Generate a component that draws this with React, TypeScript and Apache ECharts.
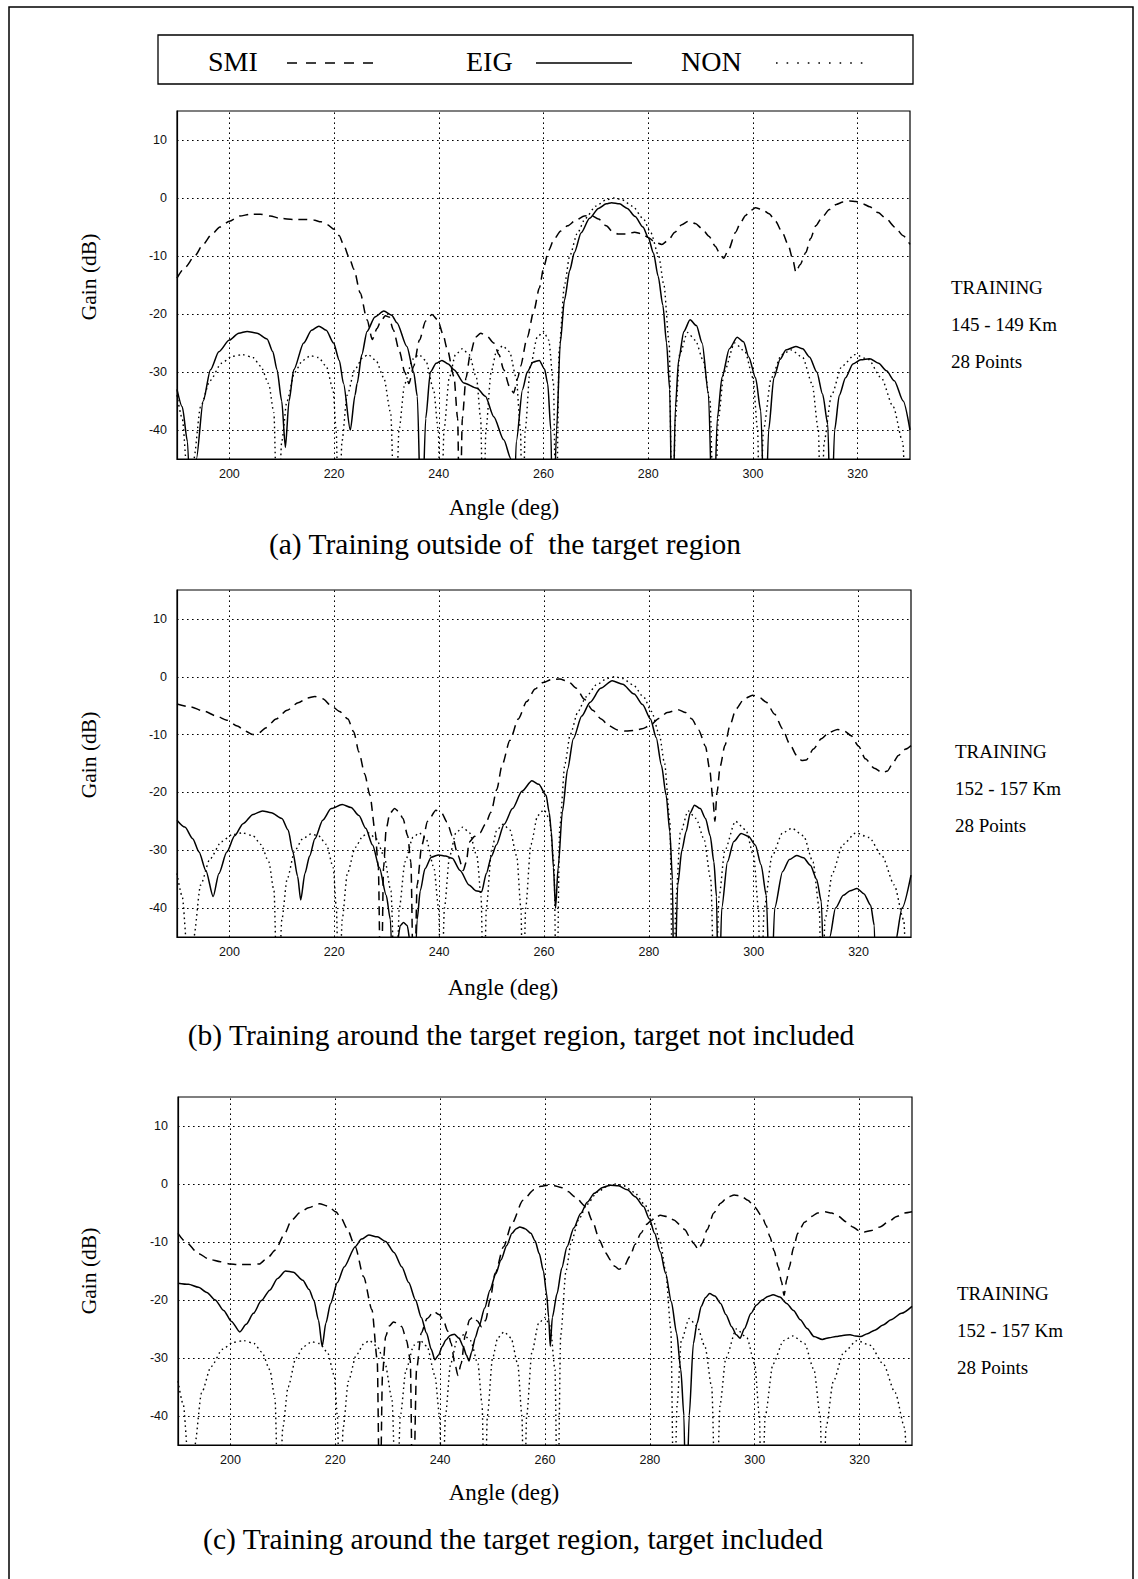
import React, { useEffect, useRef } from "react";
import * as echarts from "echarts";

const xTicks = [200, 220, 240, 260, 280, 300, 320];
const yTicks = [10, 0, -10, -20, -30, -40];

const legendNames = ["SMI", "EIG", "NON"];
const panelCaptions = [
  "(a) Training outside of  the target region",
  "(b) Training around the target region, target not included",
  "(c) Training around the target region, target included",
];
const trainingRanges = ["145 - 149 Km", "152 - 157 Km", "152 - 157 Km"];
const trainingPoints = ["28 Points", "28 Points", "28 Points"];

// Quiescent (non-adaptive) pattern, the same in every panel
const NON: number[][] = [
  [190,-34],[191,-38],[192,-48],[192.6,-60],[193.2,-45],[194.5,-36],[196.3,-31.5],[198.5,-28.5],[200.5,-27.3],[202.5,-27],[204.5,-27.5],[206,-29],[207.5,-32],[208.5,-37],[209.2,-60],
  [210,-42],[211,-35],[212.5,-30],[214,-28],[215.5,-27.2],[217,-27.5],[218.5,-29],[219.8,-33],[220.4,-40],[220.9,-60],
  [221.5,-42],[222.5,-34],[224,-29.5],[225.5,-27.5],[226.5,-27],[228,-28],[229.5,-31],[230.8,-37],[231.7,-60],
  [232.4,-40],[233.5,-32],[235,-27.8],[236.2,-27],[237.5,-28],[239,-33],[239.9,-40],[240.4,-60],
  [241,-40],[242,-31],[243.2,-27],[244.5,-26],[245.8,-27],[247.2,-31],[248,-38],[248.5,-60],
  [249,-40],[250,-30],[251,-26.5],[252.2,-25.5],[253.5,-26.5],[254.8,-31],[255.6,-40],[256,-60],
  [256.5,-40],[257.5,-29],[258.8,-24],[260,-23],[261,-24.5],[261.9,-32],[262.4,-60],
  [263,-26],[264,-15],[265,-10],[266.5,-6],[268,-3.5],[270,-1.4],[272,-0.3],[273.5,0],[275,-0.3],[277,-1.4],[279,-3.5],[280.5,-6],[282,-10],[283,-15],[284,-25],[284.6,-60],
  [285.2,-38],[286,-27],[287.5,-23.2],[289,-24.5],[290.5,-28],[291.8,-35],[292.6,-60],
  [293.4,-38],[294.5,-30],[296.5,-25],[298.5,-26.5],[300,-31],[300.9,-40],[301.3,-60],
  [302,-40],[303.5,-31],[305.5,-27],[307.3,-26.2],[309.5,-27.5],[311.3,-32],[312.5,-40],[313,-60],
  [313.6,-42],[315,-34],[317,-29],[319.5,-27],[322,-27.8],[324.5,-31],[326.8,-36],[328.6,-42],[329.5,-60],[330,-50],
];

const SMI_A: number[][] = [
  [190,-13.8],[191.5,-12],[193.4,-10],[195,-8],[196.6,-6.3],[198.2,-5],[200,-4],[202,-3.1],[204,-2.8],[205.9,-2.8],[207.8,-3.1],[209.7,-3.5],[212.3,-3.7],[214.5,-3.7],[216.1,-3.8],[217.5,-4.1],[218.7,-4.6],[220,-5.4],[221,-6.5],[221.9,-8.3],[222.9,-10.3],[223.8,-12.3],[225,-16.4],[226.3,-21],[227.3,-24.4],
  [228.2,-22.5],[228.9,-21.3],[229.8,-20.3],[230.5,-20.5],[231.3,-22.7],[232.5,-26.5],[233.5,-30],[234.3,-32],[235.2,-29],[236.3,-24.5],[237.5,-21.2],[238.7,-20.1],[239.8,-21],[240.8,-23.5],[241.6,-26],[242.9,-30.8],[243.6,-38],[244,-60],
  [244.5,-38],[245.2,-31],[246,-27],[247,-24],[248,-23.3],[249.2,-23.8],[250.5,-25],[251.5,-27],[252.4,-29.6],[253.5,-32.5],[254.3,-33.6],[255.1,-31],[255.6,-29],[256.9,-24],[258.2,-19.3],[259.2,-15.5],[260.1,-11.7],[261,-9],[262,-7.1],[263.3,-5.7],[264.6,-4.8],[266.2,-3.8],[267.8,-3.1],[269.1,-3],[270.5,-3.6],[272,-4.8],[273.2,-5.8],[274.2,-6.2],[275.8,-6.2],[277.4,-5.9],[278.8,-6.2],[280,-6.8],[281.3,-7.6],[282.6,-8],[283.8,-7.3],[285.1,-5.9],[286.4,-4.6],[287.7,-4],[289,-4.4],[290.3,-5.3],[291.6,-6.6],[292.8,-8.3],[293.8,-9.8],[294.4,-10.4],[295.3,-9],[296.7,-5.9],[297.6,-4.3],[298.6,-3],[299.6,-2.1],[300.5,-1.7],[301.8,-2],[303.1,-2.7],[304.3,-4],[305.6,-5.9],[306.7,-8],[307.6,-10.5],[308.2,-12.8],[309,-11.5],[310.1,-9.4],[311,-7],[312,-4.8],[313.3,-3.2],[314.6,-2],[315.9,-1.1],[317.2,-0.7],[318.5,-0.5],[319.7,-0.6],[321,-1],[322.3,-1.5],[323.9,-2.5],[325.5,-3.6],[327.1,-5],[328.7,-6.5],[330,-8],
];

const EIG_A: number[][] = [
  [190,-33],[191,-36],[192,-42],[192.8,-60],[193.7,-45],[195,-35],[196.4,-29.6],[198,-26.5],[200,-24.5],[201.8,-23.3],[203.4,-23],[205.3,-23.3],[207.2,-24.3],[208.3,-26.5],[209.1,-29.6],[210,-35],[210.7,-43],
  [211.4,-35],[212.3,-29.6],[214.2,-25],[215.7,-22.8],[217.1,-22.1],[218.5,-22.8],[219.9,-25],[221,-28],[221.8,-32],[223.1,-40],
  [224,-34],[224.4,-32],[225.3,-27],[226.3,-23],[227.8,-20.5],[229.5,-19.5],[231,-20.2],[232,-21.5],[233.9,-25.6],[235.2,-30],[235.9,-34.2],[236.7,-60],
  [237.5,-38],[238.4,-30],[239.5,-28.5],[240.6,-28],[241.8,-28.6],[242.9,-29.6],[244.8,-31.9],[247.3,-32.8],[248.9,-34.2],[250.5,-37.7],[252.4,-41.7],[253.8,-45],[254.2,-60],
  [254.8,-42],[256,-33],[256.9,-30],[258,-28.3],[259.2,-28],[260.2,-29.5],[260.8,-32],[261.4,-40],[261.8,-60],
  [262.5,-40],[263.2,-25],[264,-17.6],[265,-12.5],[265.9,-9.4],[267.2,-6],[268.8,-3.5],[270.5,-1.8],[272,-1],[273,-0.8],[274.5,-1],[276,-1.8],[277.5,-3.2],[279,-5],[280,-6.8],[281,-9.5],[281.9,-13.5],[282.8,-18.5],[283.5,-25],[284.1,-33],[284.6,-60],
  [285.2,-36],[285.8,-28],[286.8,-23],[288,-21],[289.2,-22],[290.3,-25],[291.5,-33.8],[292.4,-60],
  [293.2,-38],[294.1,-30.9],[295.5,-26],[297,-24],[298.2,-24.8],[299.2,-27.4],[300.5,-31],[301.5,-36.7],[302.3,-60],
  [303,-40],[304,-31],[305.2,-27.8],[306.3,-26.2],[308.2,-25.6],[309.5,-26],[310.8,-27.4],[312.2,-30],[313.3,-33.8],[314.3,-39],[314.9,-60],
  [315.6,-40],[316.5,-34],[317.7,-31],[319.1,-28.6],[320.6,-27.9],[322.3,-27.7],[324,-28.5],[325.5,-29.8],[327,-31.5],[328.7,-35],[330,-40],
];

const SMI_B: number[][] = [
  [190,-4.7],[192.5,-5.2],[195.3,-6],[197.5,-6.8],[199.5,-7.5],[201.5,-8.5],[203,-9.4],[204.5,-10],[205.5,-9.8],[207,-8.8],[208.9,-7.3],[211,-5.8],[213.1,-4.5],[214.8,-3.7],[216.3,-3.4],[217.8,-3.8],[219.4,-5],[221,-6],[222.6,-7.3],[223.7,-9.5],[224.7,-13],[225.8,-16.8],[226.8,-20.5],[227.8,-26.8],[228.4,-33],[228.9,-60],
  [229.4,-33],[229.9,-26.3],[230.6,-23.6],[231.5,-22.8],[232.3,-23.3],[233.1,-24.5],[234,-27.5],[234.6,-32],[235.2,-60],
  [235.8,-36],[236.7,-29.1],[237.8,-25],[239.4,-23.1],[240.5,-23.6],[241.5,-25.1],[242.5,-27.5],[243.6,-30.9],[244.6,-33.5],[245.2,-32],[245.7,-28.6],[246.8,-27.6],[247.8,-27],[248.8,-25.5],[249.9,-23.4],[251,-19.5],[252,-15.3],[253.5,-11],[255.1,-7.3],[256.7,-4.3],[258.3,-2.1],[259.8,-1],[261.4,-0.5],[263,-0.4],[264.6,-0.8],[266.2,-2],[267.7,-3.9],[269.3,-5.8],[270.9,-7.3],[272.4,-8.5],[274,-9.2],[275.6,-9.4],[277.2,-9.3],[278.7,-9],[280.3,-8.4],[281.9,-7.2],[283.5,-6.2],[285.6,-5.7],[287,-6.2],[288.2,-7.3],[289.5,-9.2],[290.8,-12],[291.6,-16],[292.2,-21],[292.6,-25],[293,-20],[293.6,-15.5],[294.5,-11.9],[295.5,-8.3],[296.6,-5.6],[298.2,-3.8],[299.8,-3.2],[301,-3.5],[302.4,-4.4],[304,-6.5],[305.5,-9],[306.8,-11.5],[308.2,-13.6],[309.2,-14.5],[310,-14.4],[311.4,-12.5],[312.9,-10.7],[314.4,-9.6],[316,-9.1],[317.3,-9.4],[318.6,-10.2],[320,-12],[321.3,-14.2],[323,-15.8],[324.5,-16.6],[325.5,-16.3],[326.5,-15],[327.6,-13.6],[329,-12.5],[330,-11.9],
];

const EIG_B: number[][] = [
  [190,-24.8],[191.5,-26],[193,-28],[194.2,-30.3],[195.5,-33.5],[196.9,-38],[198,-34],[199.5,-30.3],[201,-27.5],[202.6,-25.4],[204.5,-23.8],[206.3,-23.2],[208,-23.5],[210,-24.5],[211.2,-26.5],[212.1,-30.3],[213,-34.5],[213.6,-38.6],
  [214.4,-34],[215.3,-31],[216.3,-28],[217.8,-24.8],[219.4,-22.8],[221.5,-22.1],[223.2,-22.6],[224.7,-24],[226,-26.2],[227.3,-29.1],[228.6,-33],[229.9,-37.8],[230.7,-42],[231.4,-60],
  [232,-46],[232.6,-43],[233.2,-42.5],[233.9,-43],[234.5,-46],[235.1,-60],
  [235.8,-42],[236.4,-37],[237.3,-33.2],[238.5,-31.2],[239.9,-30.8],[241.2,-31],[242.5,-31.4],[244,-33.5],[245.7,-36],[247,-37],[248.1,-37.2],[249,-34],[250,-31],[250.9,-29.1],[252.4,-25.5],[254,-22.8],[255.8,-19.8],[257.7,-18],[259,-18.6],[260.4,-20.5],[261,-23.5],[261.4,-26.8],[261.8,-33],[262.2,-40],
  [262.7,-33],[263.5,-23.4],[264.5,-16],[265.6,-10.7],[267.2,-6.8],[268.8,-4.4],[270.8,-2],[273,-0.7],[275,-1.3],[277.2,-3],[278.8,-4.8],[280.3,-7.3],[281.4,-10.5],[282.4,-15.3],[283.3,-20.5],[284,-26.8],[284.5,-35],[284.8,-60],
  [285.5,-36],[286.3,-30],[287.1,-26.8],[287.9,-23.5],[288.7,-22.2],[289.8,-22.8],[290.8,-24.5],[291.7,-27.5],[292.4,-32],[292.9,-38],[293.3,-60],
  [293.9,-40],[295,-32],[296.2,-28.5],[297.6,-27.1],[299,-27.6],[300.3,-29.1],[301.4,-32.5],[302.4,-37.8],[303.2,-60],
  [304,-40],[305.5,-33.7],[306.8,-31.6],[308.2,-30.9],[309.5,-31.3],[310.8,-32.6],[312,-35],[312.9,-38.9],[313.6,-60],
  [314.5,-45],[315.6,-40],[317.1,-37.8],[318.4,-37],[319.7,-36.6],[321,-37.5],[322.3,-39.5],[323,-43],[323.4,-60],
  [326.3,-60],[327,-46],[328.3,-40],[330,-34.3],
];

const SMI_C: number[][] = [
  [190,-8.5],[191.5,-10],[193.9,-12],[196,-13],[198.1,-13.4],[200,-13.8],[201.3,-13.9],[203.5,-13.9],[205.5,-13.8],[207,-12.8],[208.6,-11.4],[210.2,-8.8],[211.7,-6.2],[213.3,-4.9],[214.9,-4.1],[217,-3.4],[218.6,-3.8],[220.1,-4.8],[221.2,-6],[222.2,-7.6],[223.8,-10.8],[225.4,-16],[227,-21.7],[228,-30.3],[228.5,-60],
  [229,-33],[229.6,-26.3],[230.3,-24.5],[231.1,-23.8],[231.9,-24],[232.7,-24.6],[233.6,-27],[234.3,-30.3],[234.8,-60],
  [235.5,-32],[236.4,-25.7],[237.5,-23.2],[238.8,-22],[239.8,-22.5],[240.6,-23.4],[241.4,-25.3],[242.1,-27.5],[242.8,-31],[243.4,-33],[244,-31],[244.8,-26],[245.6,-23.4],[246.3,-22.9],[247.1,-23.6],[247.9,-24.6],[248.7,-23.5],[249.5,-20],[250.5,-15.4],[252.1,-10.8],[253.7,-6.8],[255.8,-2.8],[257.9,-1],[259.2,-0.4],[260.5,-0.2],[261.8,-0.3],[263.1,-0.6],[264.4,-1.3],[265.7,-2.2],[267.8,-3.9],[269.1,-6.5],[270.4,-9.7],[271.5,-11.8],[272.5,-13.1],[273.3,-14.2],[274.1,-14.7],[275,-14.3],[276.2,-12.5],[277.2,-10.4],[278.3,-8.5],[279.3,-7],[280.4,-6.2],[282,-5.4],[283.3,-5.6],[284.6,-6.2],[285.7,-7],[286.7,-7.9],[287.5,-9],[288.3,-10.2],[289.3,-11.3],[290,-10.2],[290.9,-7.9],[292.2,-5],[293.5,-3.3],[294.8,-2.3],[296.1,-1.9],[297.4,-2.1],[298.7,-2.8],[300,-4],[301.4,-5.6],[302.2,-7.2],[302.9,-9.1],[303.7,-11.5],[304.5,-14.3],[305.1,-16.8],[305.6,-19.2],[306.1,-16.5],[306.6,-14.3],[307.4,-11],[308.2,-8.5],[309.5,-6.6],[310.8,-5.6],[312,-5],[313.4,-4.8],[314.7,-5],[316,-5.6],[317.4,-6.5],[318.7,-7.4],[319.8,-8],[320.8,-8.3],[322.3,-8],[323.9,-7.4],[325.5,-6.5],[327.1,-5.6],[328.6,-5],[330,-4.8],
];

const EIG_C: number[][] = [
  [190,-17.1],[192,-17.3],[193.9,-17.8],[195.5,-18.7],[197.1,-20],[198.7,-21.8],[200.2,-23.7],[201.8,-25.5],[203,-24.2],[204.4,-22.3],[205.9,-20.1],[207.5,-18.3],[209,-16.3],[210.5,-15],[212,-15.2],[213.8,-16.6],[215,-18.2],[215.9,-20],[216.8,-23.5],[217.5,-28],
  [218.2,-24],[219.1,-20.6],[220.4,-17],[221.7,-14.3],[223.8,-10.8],[225,-9.5],[226.4,-8.8],[228,-9.1],[229.6,-9.9],[231.2,-11.8],[232.7,-14.3],[234,-17],[235.3,-20],[236.4,-23],[237.4,-25.7],[238.3,-28.5],[239,-30.3],
  [239.7,-29.5],[240.4,-28],[241.1,-26.9],[241.9,-26.1],[242.7,-25.9],[243.6,-26.6],[244.4,-28],[245,-29.5],[245.5,-30.5],
  [246,-29],[246.7,-26.5],[247.4,-24.6],[248.5,-21.4],[249.5,-18.3],[250.6,-15.5],[251.6,-13.1],[252.7,-10.6],[253.7,-8.5],[254.5,-7.7],[255.2,-7.4],[256.2,-7.7],[257.3,-8.5],[258.1,-9.8],[258.9,-12],[259.7,-15],[260.3,-18.9],[260.7,-23],[261,-28],
  [261.4,-23],[262.3,-18.9],[263.2,-14.5],[264.2,-10.8],[265.5,-7.6],[266.8,-5.1],[268.1,-3.1],[269.4,-1.6],[271,-0.6],[272.5,-0.2],[274,-0.3],[275.7,-1],[277.2,-2.2],[278.8,-3.9],[279.9,-6],[280.9,-8.5],[282,-11.7],[283,-15.4],[284.1,-20.3],[285.1,-25.7],[285.9,-32],[286.5,-40],[286.9,-60],
  [287.5,-40],[288.3,-27.5],[289,-24],[289.8,-21.1],[290.6,-19.6],[291.4,-18.9],[292.4,-19.3],[293.5,-20.6],[294.5,-22.5],[295.6,-24.6],[296.5,-26],[297.2,-26.6],
  [298,-25],[299.3,-22.3],[300.3,-20.9],[301.4,-20],[302.5,-19.4],[303.5,-19.1],[304.8,-19.5],[306.1,-20.6],[307.4,-21.8],[308.7,-23.4],[310,-24.9],[311.3,-26.3],[312.9,-26.8],[314.2,-26.5],[315.5,-26.3],[316.8,-26.1],[318.2,-26],[319.2,-26.2],[320.2,-26.3],[321.5,-25.8],[322.9,-25.2],[324.5,-24.3],[326,-23.4],[328,-22.3],[330,-21.1],
];

const panelSmi = [SMI_A, SMI_B, SMI_C];
const panelEig = [EIG_A, EIG_B, EIG_C];

// ---------- layout (pixels) ----------
const SERIF = '"Liberation Serif", "DejaVu Serif", serif';
const SANS = '"Liberation Sans", Arial, sans-serif';
const grids = [
  { left: 177, top: 111, width: 733, height: 348 },
  { left: 177, top: 590, width: 734, height: 347 },
  { left: 178, top: 1097, width: 734, height: 348 },
];
const gainY = [277, 755, 1271];
const angleLabel = [[504, 507], [503, 987], [504, 1492]];
const captionPos = [[505, 544], [521, 1035], [513, 1539]];
const sideText = [[951, 287], [955, 751], [957, 1293]];

const DASH = [9, 6];
const DOT = [1.6, 3.4];

export default function App() {
  const ref = useRef<HTMLDivElement>(null);

  useEffect(() => {
    if (!ref.current) return;
    const chart = echarts.init(ref.current, undefined, { renderer: "svg" });

    const gridLineData = [
      ...xTicks.map((v) => ({ xAxis: v })),
      ...yTicks.map((v) => ({ yAxis: v })),
    ];

    const xAxes: any[] = [];
    const yAxes: any[] = [];
    const series: any[] = [];
    const graphic: any[] = [];

    grids.forEach((g, i) => {
      xAxes.push({
        type: "value",
        gridIndex: i,
        min: 190,
        max: 330,
        interval: 10,
        axisLine: { show: true, onZero: false, lineStyle: { color: "#000", width: 1.2 } },
        axisTick: { show: false },
        splitLine: { show: false },
        axisLabel: {
          color: "#111",
          fontFamily: SANS,
          fontSize: 12.5,
          margin: 8,
          formatter: (v: number) => (xTicks.includes(v) ? String(v) : ""),
        },
      });
      yAxes.push({
        type: "value",
        gridIndex: i,
        min: -45,
        max: 15,
        interval: 5,
        axisLine: { show: true, lineStyle: { color: "#000", width: 1.2 } },
        axisTick: { show: false },
        splitLine: { show: false },
        axisLabel: {
          color: "#111",
          fontFamily: SANS,
          fontSize: 12.5,
          margin: 10,
          formatter: (v: number) => (yTicks.includes(v) ? String(v) : ""),
        },
      });

      series.push({
        name: "NON",
        type: "line",
        xAxisIndex: i,
        yAxisIndex: i,
        data: NON,
        showSymbol: false,
        symbol: "none",
        smooth: 0.25,
        smoothMonotone: "x",
        clip: true,
        lineStyle: { color: "#000", width: 1.4, type: DOT },
        markLine: {
          silent: true,
          symbol: ["none", "none"],
          label: { show: false },
          lineStyle: { color: "#000", width: 1, type: DOT },
          data: gridLineData,
        },
        z: 2,
      });
      series.push({
        name: "SMI",
        type: "line",
        xAxisIndex: i,
        yAxisIndex: i,
        data: panelSmi[i],
        showSymbol: false,
        symbol: "none",
        smooth: 0.25,
        smoothMonotone: "x",
        clip: true,
        lineStyle: { color: "#000", width: 1.5, type: DASH },
        z: 3,
      });
      series.push({
        name: "EIG",
        type: "line",
        xAxisIndex: i,
        yAxisIndex: i,
        data: panelEig[i],
        showSymbol: false,
        symbol: "none",
        smooth: 0.25,
        smoothMonotone: "x",
        clip: true,
        lineStyle: { color: "#000", width: 1.5, type: "solid" },
        z: 4,
      });

      graphic.push({
        type: "text",
        x: 89,
        y: gainY[i],
        rotation: Math.PI / 2,
        style: {
          text: "Gain (dB)",
          fontFamily: SERIF,
          fontSize: 21.5,
          fill: "#000",
          align: "center",
          verticalAlign: "middle",
        },
      });
      graphic.push({
        type: "text",
        x: angleLabel[i][0],
        y: angleLabel[i][1],
        style: {
          text: "Angle (deg)",
          fontFamily: SERIF,
          fontSize: 23,
          fill: "#000",
          align: "center",
          verticalAlign: "middle",
        },
      });
      graphic.push({
        type: "text",
        x: captionPos[i][0],
        y: captionPos[i][1],
        style: {
          text: panelCaptions[i],
          fontFamily: SERIF,
          fontSize: 29.5,
          fill: "#000",
          align: "center",
          verticalAlign: "middle",
        },
      });
      ["TRAINING", trainingRanges[i], trainingPoints[i]].forEach((t, k) => {
        graphic.push({
          type: "text",
          x: sideText[i][0],
          y: sideText[i][1] + k * 37,
          style: {
            text: t,
            fontFamily: SERIF,
            fontSize: 19,
            fill: "#000",
            align: "left",
            verticalAlign: "middle",
          },
        });
      });
    });

    // outer frame
    graphic.push({
      type: "polyline",
      shape: { points: [[9, 1590], [9, 7], [1133, 7], [1133, 1590]] },
      style: { stroke: "#000", lineWidth: 1.5, fill: "none" },
    });
    // legend box
    graphic.push({
      type: "rect",
      shape: { x: 158, y: 35, width: 755, height: 49 },
      style: { stroke: "#000", lineWidth: 1.3, fill: "none" },
    });
    const legendTextX = [208, 466, 681];
    const legendLine = [
      { x1: 287, x2: 381, dash: [10, 9] },
      { x1: 536, x2: 632, dash: null },
      { x1: 776, x2: 866, dash: [1.6, 9] },
    ];
    legendNames.forEach((n, k) => {
      graphic.push({
        type: "text",
        x: legendTextX[k],
        y: 61,
        style: {
          text: n,
          fontFamily: SERIF,
          fontSize: 28,
          fill: "#000",
          align: "left",
          verticalAlign: "middle",
        },
      });
      const l = legendLine[k];
      graphic.push({
        type: "line",
        shape: { x1: l.x1, y1: 63, x2: l.x2, y2: 63 },
        style: { stroke: "#000", lineWidth: 1.4, lineDash: l.dash || undefined },
      });
    });

    chart.setOption({
      animation: false,
      backgroundColor: "#fff",
      grid: grids.map((g) => ({
        ...g,
        show: true,
        borderColor: "#000",
        borderWidth: 1.2,
        backgroundColor: "transparent",
      })),
      xAxis: xAxes,
      yAxis: yAxes,
      series,
      graphic,
    });

    return () => chart.dispose();
  }, []);

  return (
    <div
      ref={ref}
      style={{ position: "absolute", left: 0, top: 0, width: 1138, height: 1579, background: "#fff" }}
    />
  );
}
